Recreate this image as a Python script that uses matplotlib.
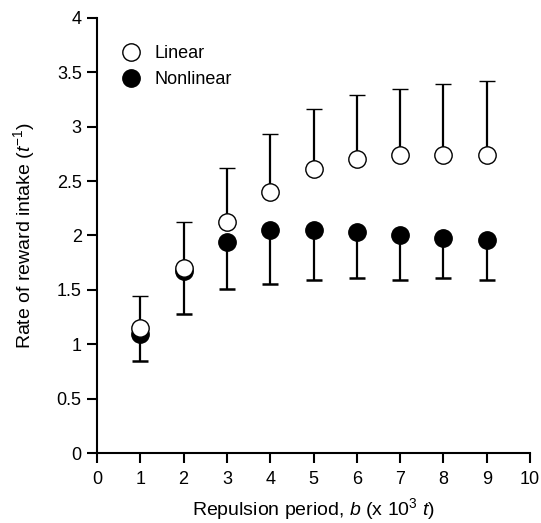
import matplotlib
matplotlib.use("Agg")
import matplotlib.pyplot as plt
import numpy as np

plt.rcParams['font.family'] = ['Liberation Sans', 'DejaVu Sans']
plt.rcParams['mathtext.fontset'] = 'custom'
plt.rcParams['mathtext.rm'] = 'Liberation Sans'
plt.rcParams['mathtext.it'] = 'Liberation Sans:italic'

x = [1, 2, 3, 4, 5, 6, 7, 8, 9]
linear = [1.15, 1.70, 2.12, 2.40, 2.61, 2.70, 2.74, 2.74, 2.74]
linear_upper = [1.44, 2.12, 2.62, 2.93, 3.16, 3.29, 3.35, 3.39, 3.42]
nonlinear = [1.09, 1.67, 1.94, 2.05, 2.05, 2.03, 2.00, 1.98, 1.96]
nonlinear_lower = [0.85, 1.28, 1.51, 1.55, 1.59, 1.61, 1.59, 1.61, 1.59]

fig = plt.figure(figsize=(5.41, 5.23), dpi=100)
ax = fig.add_axes([97/541, 1 - 453/523, (530-97)/541, (453-18)/523])

nl = np.array(nonlinear)
ln = np.array(linear)
e_nl = ax.errorbar(x, nonlinear, yerr=[nl - np.array(nonlinear_lower), np.zeros_like(nl)],
                   fmt='o', color='black', markersize=12.5, markerfacecolor='black',
                   markeredgecolor='black', ecolor='black', elinewidth=1.6,
                   capsize=6, capthick=1.8, label='Nonlinear', zorder=3)
e_ln = ax.errorbar(x, linear, yerr=[np.zeros_like(ln), np.array(linear_upper) - ln],
                   fmt='o', color='black', markersize=12.5, markerfacecolor='white',
                   markeredgecolor='black', markeredgewidth=1.0, ecolor='black',
                   elinewidth=1.6, capsize=6, capthick=1.8, label='Linear', zorder=4)
# hide the caps at the marker end (one-sided error bars)
e_nl[1][1].set_visible(False)
e_ln[1][0].set_visible(False)

ax.set_xlim(0, 10)
ax.set_ylim(0, 4)
ax.set_xticks(range(0, 11))
ax.set_yticks(np.arange(0, 4.01, 0.5))
ax.set_yticklabels(['0', '0.5', '1', '1.5', '2', '2.5', '3', '3.5', '4'])
ax.spines['top'].set_visible(False)
ax.spines['right'].set_visible(False)
for s in ['left', 'bottom']:
    ax.spines[s].set_linewidth(1.5)
ax.tick_params(direction='out', length=7, width=1.5, labelsize=13)
ax.tick_params(axis='x', pad=6)
ax.tick_params(axis='y', pad=4)

ax.set_xlabel(r'Repulsion period, $\it{b}$ (x 10$^{3}$ $\it{t}$)', fontsize=14, labelpad=6)
ax.set_ylabel(r'Rate of reward intake ($\it{t}^{-1}$)', fontsize=14, labelpad=14)

h, l = ax.get_legend_handles_labels()
leg = ax.legend([h[1][0], h[0][0]], ['Linear', 'Nonlinear'], loc='upper left',
                frameon=False, fontsize=13, bbox_to_anchor=(0.0, 0.975),
                handletextpad=0.3, borderaxespad=0.5)

fig.savefig('out.png', dpi=100)
